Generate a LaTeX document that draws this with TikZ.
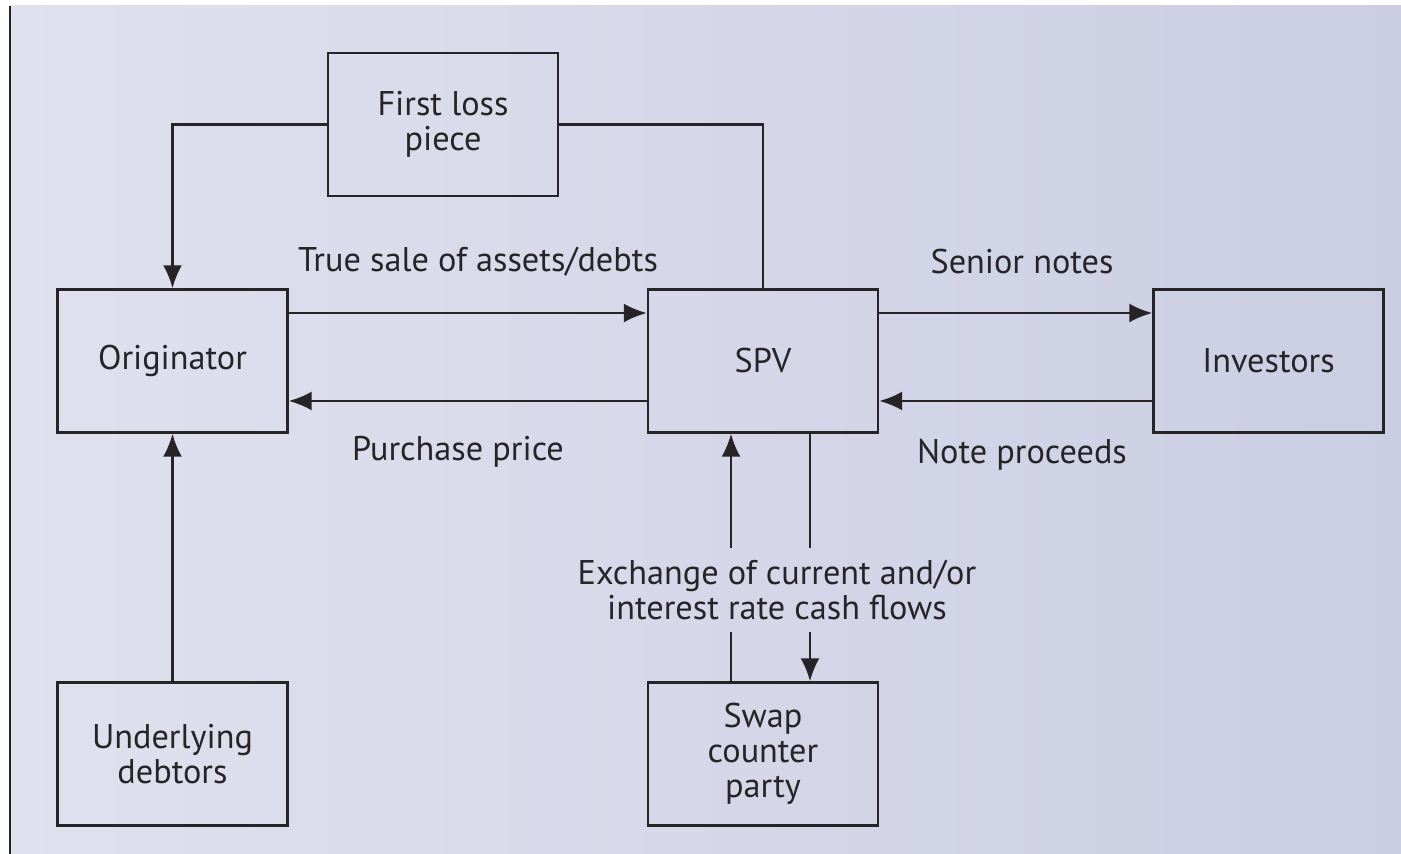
\documentclass[tikz,border=0pt]{standalone}
\usepackage{fontspec}
\setmainfont{PT Sans}
\usetikzlibrary{arrows.meta}
\definecolor{bgleft}{RGB}{224,225,238}
\definecolor{bgright}{RGB}{203,205,227}
\definecolor{ink}{RGB}{38,36,38}
\tikzset{
    box/.style={draw=ink, line width=1.4pt, minimum width=4.6cm, minimum height=2.86cm, align=center, text=ink},
    lbl/.style={text=ink, align=center},
    flow/.style={draw=ink, line width=1.4pt}
}
\begin{document}
\begin{tikzpicture}[x=0.02cm, y=-0.02cm, >={Latex[length=0.46cm,width=0.38cm]},
    font=\fontsize{19.5}{20}\selectfont]
\useasboundingbox (0,0) rectangle (1401,854);
\clip (0,0) rectangle (1401,854);
\shade[left color=bgleft, right color=bgright] (10,6) rectangle (1410,860);
\draw[ink, line width=1.2pt] (10,6)--(10,860);

\node[box] (first) at (443,124.5) {First loss\\piece};
\node[box] (orig) at (172.5,361) {Originator};
\node[box] (spv) at (763,361) {SPV};
\node[box] (inv) at (1268.5,361) {Investors};
\node[box] (debt) at (172.5,754) {Underlying\\debtors};
\node[box] (swap) at (763,754) {Swap\\counter\\party};

\node[lbl] at (478,262) {True sale of assets/debts};
\node[lbl] at (458,452) {Purchase price};
\node[lbl] at (1022,262) {Senior notes};
\node[lbl] at (1022,455) {Note proceeds};
\node[lbl, minimum height=1.68cm, inner sep=0pt] (xchg) at (777,590) {Exchange of current and/or\\interest rate cash flows};

% first loss piece
\draw[flow,->] (first.west) -| (orig.north);
\draw[flow] (first.east) -| (spv.north);

% originator <-> spv <-> investors
\draw[flow,->] ([yshift=0.96cm]orig.east) -- ([yshift=0.96cm]spv.west);
\draw[flow,->] ([yshift=-0.8cm]spv.west) -- ([yshift=-0.8cm]orig.east);
\draw[flow,->] ([yshift=0.96cm]spv.east) -- ([yshift=0.96cm]inv.west);
\draw[flow,->] ([yshift=-0.8cm]inv.west) -- ([yshift=-0.8cm]spv.east);

\draw[flow,->] (debt.north) -- (orig.south);

% swap
\draw[flow] ([xshift=-0.64cm]swap.north) -- ([xshift=-0.64cm]swap.north |- xchg.south);
\draw[flow,->] ([xshift=-0.64cm]spv.south |- xchg.north) -- ([xshift=-0.64cm]spv.south);
\draw[flow] ([xshift=0.94cm]spv.south) -- ([xshift=0.94cm]spv.south |- xchg.north);
\draw[flow,->] ([xshift=0.94cm]swap.north |- xchg.south) -- ([xshift=0.94cm]swap.north);
\end{tikzpicture}
\end{document}
